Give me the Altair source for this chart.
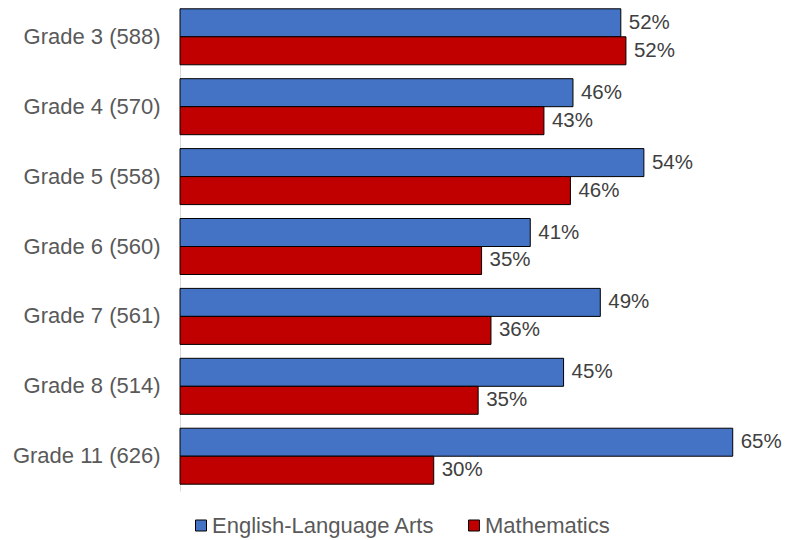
import altair as alt
import pandas as pd

GRADES = ["Grade 3 (588)", "Grade 4 (570)", "Grade 5 (558)", "Grade 6 (560)",
          "Grade 7 (561)", "Grade 8 (514)", "Grade 11 (626)"]
SUBJECTS = ["English-Language Arts", "Mathematics"]
ELA = [51.6, 46.0, 54.3, 41.0, 49.2, 44.9, 64.7]
MATH = [52.2, 42.6, 45.7, 35.3, 36.4, 34.9, 29.7]
COLORS = ["#4472C4", "#C00000"]

rows = []
for g, e, m in zip(GRADES, ELA, MATH):
    rows.append({"grade": g, "subject": SUBJECTS[0], "value": e})
    rows.append({"grade": g, "subject": SUBJECTS[1], "value": m})
df = pd.DataFrame(rows)

FONT = "Liberation Sans"

y = alt.Y(
    "grade:N", sort=GRADES, title=None,
    scale=alt.Scale(paddingInner=0.199, paddingOuter=0.0973),
    axis=alt.Axis(ticks=False, labelPadding=20, labelFontSize=22, labelColor="#595959",
                  labelFont=FONT, domainColor="#D9D9D9", domainWidth=1, labelLimit=220,
                  grid=False),
)
yoff = alt.YOffset("subject:N", sort=SUBJECTS, scale=alt.Scale(paddingInner=0, paddingOuter=0))
x = alt.X("value:Q", scale=alt.Scale(domain=[0, 70], nice=False, zero=True), axis=None)

bars = alt.Chart(df).mark_bar(stroke="black", strokeWidth=1).encode(
    x=x, y=y, yOffset=yoff,
    color=alt.Color(
        "subject:N", sort=SUBJECTS,
        scale=alt.Scale(domain=SUBJECTS, range=COLORS),
        legend=alt.Legend(
            title=None, orient="none", legendX=10, legendY=512.5, direction="horizontal",
            labelFontSize=22, labelFont=FONT, labelColor="#595959",
            symbolType="square", symbolSize=121, symbolStrokeColor="black",
            symbolStrokeWidth=1, labelLimit=300, columnPadding=28, labelOffset=0,
            padding=0,
        ),
    ),
)

text = alt.Chart(df).transform_calculate(
    label="format(datum.value, '.0f') + '%'"
).mark_text(
    align="left", baseline="middle", dx=8, fontSize=20.5, color="#404040", font=FONT
).encode(x=x, y=y, yOffset=yoff, text="label:N")

chart = alt.layer(bars, text).properties(
    width=598, height=489,
    padding={"left": 172, "top": -6, "right": 5, "bottom": 49},
    autosize=alt.AutoSizeParams(type="none"),
).configure_view(stroke=None)

chart.save("out.html", embed_options={"renderer": "svg", "actions": False})
